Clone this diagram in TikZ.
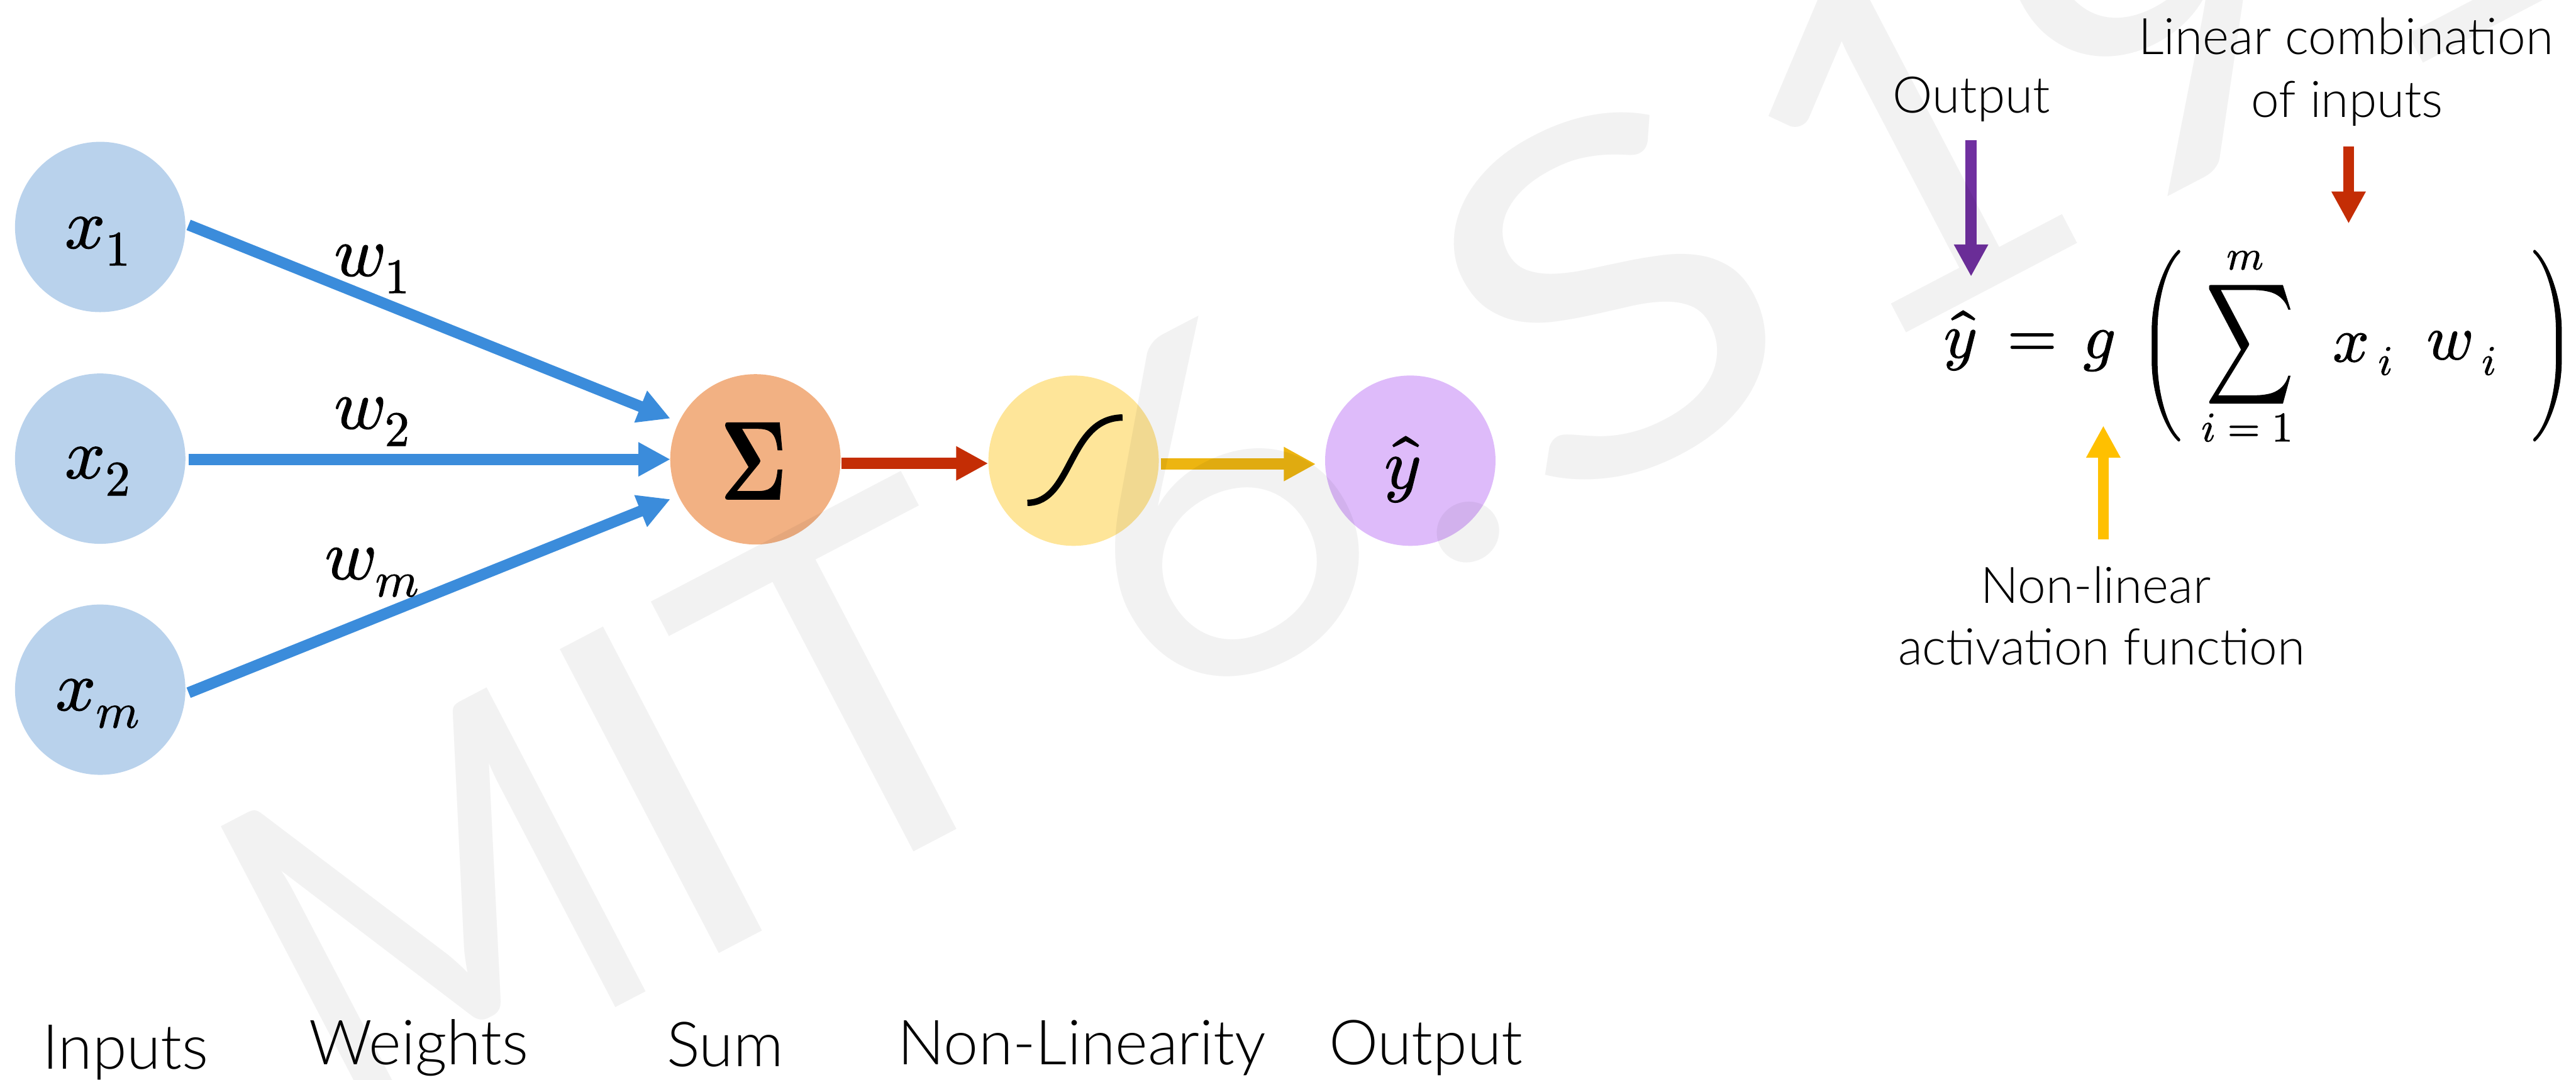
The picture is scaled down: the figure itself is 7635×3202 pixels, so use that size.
\documentclass[tikz,border=0pt]{standalone}
\usepackage{fontspec}
\usepackage{unicode-math}
\setmainfont{Lato Light}
\newfontfamily\wmfont{Lato}
\setmathfont{Latin Modern Math}[FakeBold=1.2]
\usetikzlibrary{arrows.meta}
\definecolor{inblue}{HTML}{B9D2EC}
\definecolor{sumor}{HTML}{F2B183}
\definecolor{nlyel}{HTML}{FEE599}
\definecolor{outpu}{HTML}{DEBBFA}
\definecolor{arblue}{HTML}{3B8CDB}
\definecolor{arred}{HTML}{C42D05}
\definecolor{aryel}{HTML}{EDB511}
\definecolor{eqyel}{HTML}{FFC000}
\definecolor{eqpur}{HTML}{7030A0}
\tikzset{
  x=0.2bp,y=-0.2bp,
  neuron/.style={circle,inner sep=0pt,minimum size=101bp,draw=none},
  conn/.style={line width=6.6bp,-{Triangle[length=19bp,width=19bp]}},
  lab/.style={anchor=base,inner sep=0pt,font=\fontsize{30}{30}\selectfont},
  sublab/.style={anchor=base,inner sep=0pt,font=\fontsize{37}{37}\selectfont},
  mth/.style={inner sep=0pt,font=\fontsize{42}{42}\selectfont},
  eq/.style={inner sep=0pt,font=\fontsize{38}{38}\selectfont},
  smalleq/.style={inner sep=0pt,font=\fontsize{25}{25}\selectfont},
}
\begin{document}
\begin{tikzpicture}
\useasboundingbox (0,0) rectangle (7635,3202);
% neurons
\node[neuron,fill=inblue] (x1) at (297,673) {};
\node[neuron,fill=inblue] (x2) at (297,1360) {};
\node[neuron,fill=inblue] (xm) at (297,2045) {};
\node[neuron,fill=sumor] (sum) at (2239,1362) {};
\node[neuron,fill=nlyel] (nl) at (3182,1366) {};
\node[neuron,fill=outpu] (out) at (4180,1366) {};
\node[mth] (tx1) at (290,715) {$x_1$};
\node[mth] (tx2) at (290,1397) {$x_2$};
\node[mth] (txm) at (290,2086) {$x_m$};
\node[inner sep=0pt,font=\fontsize{66}{66}\selectfont] (tsum) at (2234,1367) {\scalebox{.72}[1]{$\symbf{\Sigma}$}};
\node[mth] (ty) at (4157,1392) {$\hat y$};
\draw[line width=3.8bp] (3045,1491) .. controls (3180,1490) and (3165,1240) .. (3327,1238);
% connectors
\coordinate (c1a) at (559,667); \coordinate (c1b) at (1987,1241);
\coordinate (c2a) at (559,1362); \coordinate (c2b) at (1987,1362);
\coordinate (c3a) at (559,2054); \coordinate (c3b) at (1987,1480);
\draw[conn,arblue] (c1a) -- (c1b);
\draw[conn,arblue] (c2a) -- (c2b);
\draw[conn,arblue] (c3a) -- (c3b);
\coordinate (c4a) at (2494,1374); \coordinate (c4b) at (2929,1374);
\coordinate (c5a) at (3440,1376); \coordinate (c5b) at (3900,1376);
\draw[conn,arred] (c4a) -- (c4b);
\draw[conn,aryel] (c5a) -- (c5b);
\node[mth] (w1) at (1103,797) {$w_1$};
\node[mth] (w2) at (1103,1250) {$w_2$};
\node[mth] (wmm) at (1103,1697) {$w_m$};
% bottom labels
\node[sublab] (l1) at (372,3170) {Inputs};
\node[sublab] (l2) at (1241,3157) {Weights};
\node[sublab] (l3) at (2149,3163) {Sum};
\node[sublab] (l4) at (3207,3157) {Non-Linearity};
\node[sublab] (l5) at (4226,3157) {Output};
% equation
\node[eq] (ey) at (5810,1010) {$\hat y$};
\node[eq] (eeq) at (6023,1024) {$=$};
\node[eq] (eg) at (6222,1040) {$g$};
\node[eq] (elp) at (6405,1025) {\scalebox{.8}[1]{$\left(\vcenter{\hbox{\rule{0pt}{107bp}}}\right.$}};
\node[eq] (erp) at (7565,1025) {\scalebox{.8}[1]{$\left.\vcenter{\hbox{\rule{0pt}{107bp}}}\right)$}};
\node[inner sep=0pt,font=\fontsize{50}{50}\selectfont] (esum) at (6668,1021) {\scalebox{.72}[1]{$\displaystyle\sum$}};
\node[smalleq] (em) at (6654,772) {$m$};
\node[smalleq] (ei1) at (6660,1268) {$i=1$};
\node[eq] (exi) at (6968,1031) {$x$};
\node[smalleq] (eii) at (7070,1071) {$i$};
\node[eq] (ewi) at (7260,1024) {$w$};
\node[smalleq] (eij) at (7377,1071) {$i$};
% annotations
\node[lab] (aout) at (5843,335) {Output};
\node[lab] (alin) at (6953,161) {Linear combination};
\node[lab] (aof) at (6957,348) {of inputs};
\node[lab] (anon) at (6212,1788) {Non-linear};
\node[lab] (aact) at (6229,1971) {activation function};
\coordinate (p1) at (5842,415); \coordinate (p2) at (5842,820);
\coordinate (r1) at (6961,435); \coordinate (r2) at (6961,663);
\coordinate (g1) at (6234,1600); \coordinate (g2) at (6234,1262);
\draw[conn,eqpur] (p1) -- (p2);
\draw[conn,arred] (r1) -- (r2);
\draw[conn,eqyel] (g1) -- (g2);
% watermark
\node[rotate=27.6,text=black,text opacity=0.05,inner sep=0pt,anchor=base west,font=\fontsize{285}{285}\selectfont\wmfont] (wm) at (1029,3403) {\scalebox{1.05}[1]{\scalebox{.8}[1]{M}IT\hspace{-15bp} 6\hspace{8bp}.\hspace{9bp}\scalebox{1.15}[1]{S}\hspace{16bp}191}};
\end{tikzpicture}
\end{document}
